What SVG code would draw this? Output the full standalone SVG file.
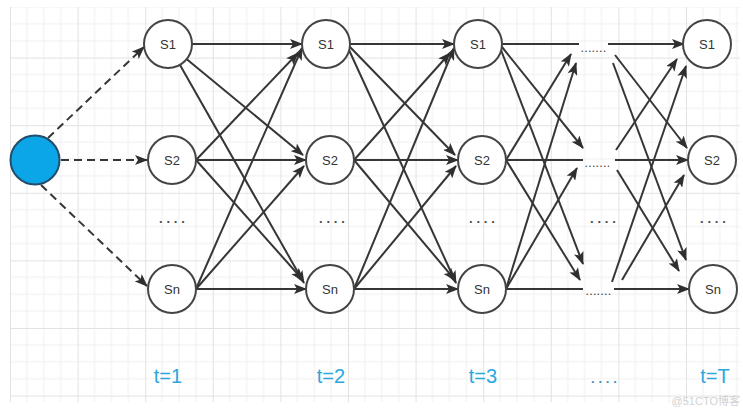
<svg xmlns="http://www.w3.org/2000/svg" width="743" height="410" viewBox="0 0 743 410">
  <defs>
    <pattern id="grid" patternUnits="userSpaceOnUse" x="10" y="-10" width="67.6" height="67.6">
      <path d="M16.9 0V67.6M33.8 0V67.6M50.7 0V67.6M0 16.9H67.6M0 33.8H67.6M0 50.7H67.6" stroke="#efefef" stroke-width="1" fill="none"/>
      <path d="M0.5 0V67.6M0 0.5H67.6" stroke="#e2e2e2" stroke-width="1" fill="none"/>
    </pattern>
    <marker id="arr" viewBox="0 0 13 10" refX="12" refY="5" markerWidth="13" markerHeight="10" markerUnits="userSpaceOnUse" orient="auto">
      <path d="M0,0 L13,5 L0,10 L3,5 Z" fill="#2f2f2f"/>
    </marker>
  </defs>
  <style>
    .edge { stroke: #363636; stroke-width: 2; fill: none; }
    .arr { marker-end: url(#arr); }
    .dash { stroke-dasharray: 8 5; }
    .state circle { fill: #ffffff; stroke: #444; stroke-width: 2; }
    .state text { font-family: "Liberation Sans", Arial, sans-serif; font-size: 13px; fill: #333; text-anchor: middle; }
    .dots { font-family: "Liberation Sans", Arial, sans-serif; font-size: 13px; font-weight: bold; fill: #4a4a4a; letter-spacing: 3.8px; }
    .mini { font-family: "Liberation Sans", Arial, sans-serif; font-size: 9px; font-weight: bold; fill: #4a4a4a; letter-spacing: 1.2px; }
    .step { font-family: "Liberation Sans", Arial, sans-serif; font-size: 20px; fill: #2aa8dc; text-anchor: middle; }
  </style>

  <rect width="743" height="410" fill="#ffffff"/>
  <rect x="10" y="7" width="730" height="395" fill="url(#grid)"/>

  <g id="connectors">
    <!-- start node to first column -->
    <line class="edge arr dash" x1="48" y1="138" x2="144" y2="47"/>
    <line class="edge arr dash" x1="61" y1="160" x2="147" y2="160"/>
    <line class="edge arr dash" x1="41" y1="185" x2="147" y2="286"/>

    <!-- t=1 to t=2 -->
    <line class="edge arr" x1="192" y1="44" x2="302" y2="44"/>
    <line class="edge arr" x1="186.5" y1="59" x2="303" y2="155"/>
    <line class="edge arr" x1="180" y1="65" x2="304" y2="283"/>
    <line class="edge arr" x1="196" y1="160" x2="298" y2="53"/>
    <line class="edge arr" x1="196" y1="160" x2="306" y2="160"/>
    <line class="edge arr" x1="196" y1="160" x2="303" y2="280"/>
    <line class="edge arr" x1="196" y1="289" x2="302" y2="48"/>
    <line class="edge arr" x1="196" y1="289" x2="304" y2="166"/>
    <line class="edge arr" x1="196" y1="289" x2="306" y2="289"/>

    <!-- t=2 to t=3 -->
    <line class="edge arr" x1="350" y1="44" x2="454" y2="44"/>
    <line class="edge arr" x1="350" y1="47" x2="455" y2="155"/>
    <line class="edge arr" x1="349" y1="50" x2="456" y2="283"/>
    <line class="edge arr" x1="354" y1="160" x2="450" y2="53"/>
    <line class="edge arr" x1="354" y1="160" x2="458" y2="160"/>
    <line class="edge arr" x1="354" y1="160" x2="455" y2="280"/>
    <line class="edge arr" x1="354" y1="289" x2="454" y2="48"/>
    <line class="edge arr" x1="354" y1="289" x2="456" y2="166"/>
    <line class="edge arr" x1="354" y1="289" x2="458" y2="289"/>

    <!-- t=3 to intermediate steps -->
    <line class="edge" x1="502" y1="44" x2="579" y2="44"/>
    <line class="edge arr" x1="502" y1="47" x2="583" y2="148"/>
    <line class="edge arr" x1="501" y1="50" x2="583" y2="264"/>
    <line class="edge arr" x1="506" y1="160" x2="571" y2="54"/>
    <line class="edge" x1="506" y1="160" x2="583" y2="160"/>
    <line class="edge arr" x1="506" y1="160" x2="580" y2="280"/>
    <line class="edge arr" x1="506" y1="289" x2="576" y2="63"/>
    <line class="edge arr" x1="506" y1="289" x2="577" y2="168"/>
    <line class="edge" x1="506" y1="289" x2="583" y2="289"/>

    <!-- intermediate steps to t=T -->
    <line class="edge arr" x1="608" y1="44" x2="684" y2="44"/>
    <line class="edge arr" x1="615" y1="55" x2="687" y2="148"/>
    <line class="edge arr" x1="613" y1="63" x2="686" y2="260"/>
    <line class="edge arr" x1="616" y1="150" x2="677" y2="59"/>
    <line class="edge arr" x1="615" y1="160" x2="688" y2="160"/>
    <line class="edge arr" x1="617" y1="170" x2="679" y2="271"/>
    <line class="edge arr" x1="612" y1="282" x2="686" y2="66"/>
    <line class="edge arr" x1="622" y1="280" x2="684" y2="175"/>
    <line class="edge arr" x1="614" y1="289" x2="689" y2="289"/>
  </g>

  <g id="start">
    <circle cx="35" cy="160" r="24.5" fill="#0aa6e8" stroke="#234e6a" stroke-width="2"/>
  </g>

  <g id="t1-s1" class="state"><circle cx="168" cy="44" r="24"/><text x="168" y="48.5">S1</text></g>
  <g id="t1-s2" class="state"><circle cx="172" cy="160" r="24"/><text x="172" y="164.5">S2</text></g>
  <g id="t1-sn" class="state"><circle cx="172" cy="289" r="24"/><text x="172" y="293.5">Sn</text></g>

  <g id="t2-s1" class="state"><circle cx="326" cy="44" r="24"/><text x="326" y="48.5">S1</text></g>
  <g id="t2-s2" class="state"><circle cx="330" cy="160" r="24"/><text x="330" y="164.5">S2</text></g>
  <g id="t2-sn" class="state"><circle cx="330" cy="289" r="24"/><text x="330" y="293.5">Sn</text></g>

  <g id="t3-s1" class="state"><circle cx="478" cy="44" r="24"/><text x="478" y="48.5">S1</text></g>
  <g id="t3-s2" class="state"><circle cx="482" cy="160" r="24"/><text x="482" y="164.5">S2</text></g>
  <g id="t3-sn" class="state"><circle cx="482" cy="289" r="24"/><text x="482" y="293.5">Sn</text></g>

  <g id="tT-s1" class="state"><circle cx="707" cy="44" r="24"/><text x="707" y="48.5">S1</text></g>
  <g id="tT-s2" class="state"><circle cx="712" cy="160" r="24"/><text x="712" y="164.5">S2</text></g>
  <g id="tT-sn" class="state"><circle cx="713" cy="289" r="24"/><text x="713" y="293.5">Sn</text></g>

  <!-- omitted states between S2 and Sn -->
  <g id="row-gaps">
    <text class="dots" x="159" y="223">....</text>
    <text class="dots" x="319" y="223">....</text>
    <text class="dots" x="469" y="223">....</text>
    <text class="dots" x="590" y="223">....</text>
    <text class="dots" x="700" y="223">....</text>
  </g>

  <!-- omitted time steps -->
  <g id="step-gaps">
    <text class="mini" x="581" y="52">.......</text>
    <text class="mini" x="585" y="167">.......</text>
    <text class="mini" x="586" y="295">.......</text>
  </g>

  <g id="time-labels">
    <text class="step" x="168" y="383">t=1</text>
    <text class="step" x="331" y="383">t=2</text>
    <text class="step" x="483" y="383">t=3</text>
    <text class="dots" x="591" y="383" style="fill:#3f92bf">....</text>
    <text class="step" x="715" y="383">t=T</text>
  </g>

  <text x="740" y="405" text-anchor="end" font-family="'Liberation Sans', 'Noto Sans CJK SC', sans-serif" font-size="11" fill="#d2d2d2">@51CTO博客</text>
</svg>
